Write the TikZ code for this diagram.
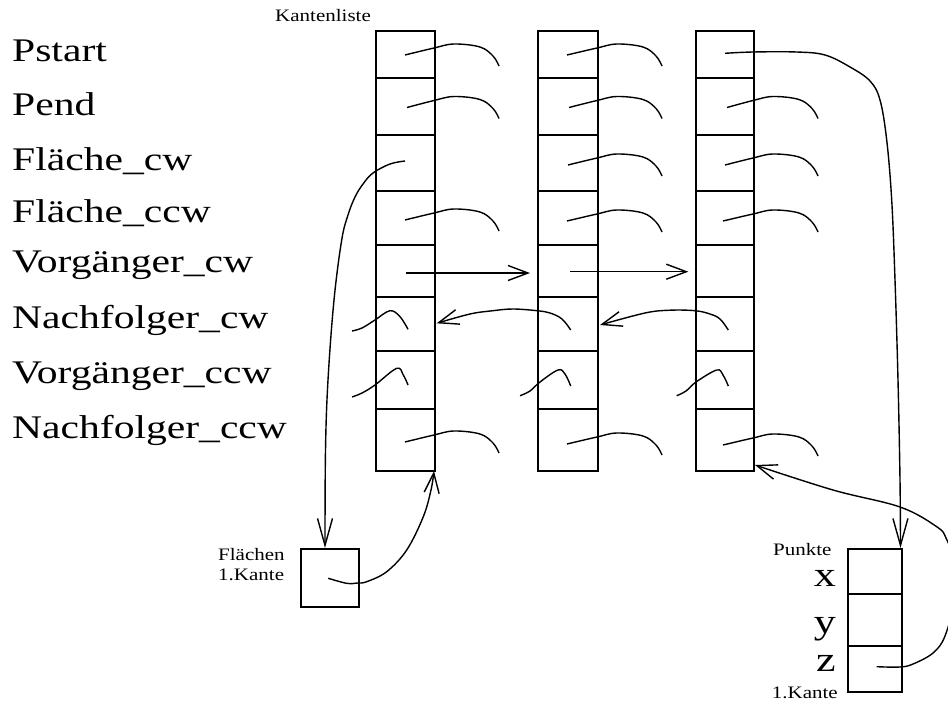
\documentclass[tikz,border=0pt]{standalone}
\usepackage{fontspec}
\setmainfont{Liberation Serif}
\newfontfamily\bigfont[FakeStretch=1.26]{Liberation Serif}
\newfontfamily\smfont[FakeStretch=1.2]{Liberation Serif}
\usetikzlibrary{arrows.meta}
\tikzset{
  box/.style={draw, line width=1.8pt, inner sep=0pt, anchor=north west},
  sep/.style={line width=1.8pt},
  curve/.style={line width=1.4pt},
  arr/.style={curve, -{Straight Barb[length=20pt,width=15pt,line width=1.4pt]}},
  varr/.style={curve, -{Straight Barb[length=27pt,width=15pt,line width=1.4pt]}},
  biglab/.style={anchor=base west, inner sep=0pt, font=\bigfont\fontsize{33}{33}\selectfont},
  smlab/.style={anchor=base west, inner sep=0pt, font=\smfont\fontsize{17.5}{17.5}\selectfont},
}
\newcommand\rpt[3]{\draw[curve] plot[smooth,tension=0.6] coordinates {(#1,{#3+1}) (#2,{#3-6}) ({#2+20},{#3-10}) ({#2+46},{#3-7}) ({#2+59},{#3+2}) ({#2+65},{#3+12})};}
\begin{document}
\begin{tikzpicture}[x=1pt,y=-1pt]
\useasboundingbox (0,0) rectangle (948,704);
\clip (0,0) rectangle (948,704);
% labels
\node[biglab] (l1) at (12,61.7) {Pstart};
\node[biglab] (l2) at (12,115) {Pend};
\node[biglab] (l3) at (12,170) {Fläche\_cw};
\node[biglab] (l4) at (12,222) {Fläche\_ccw};
\node[biglab] (l5) at (12,272.5) {Vorgänger\_cw};
\node[biglab] (l6) at (12,328) {Nachfolger\_cw};
\node[biglab] (l7) at (12,383) {Vorgänger\_ccw};
\node[biglab] (l8) at (12,438) {Nachfolger\_ccw};
\node[smlab] (kl) at (275,21.7) {Kantenliste};
% columns
\node[box, minimum width=59pt, minimum height=440pt] (k1) at (375,30) {};
\node[box, minimum width=60pt, minimum height=440pt] (k2) at (537,30) {};
\node[box, minimum width=58pt, minimum height=440pt] (k3) at (695,30) {};
\foreach \y in {78,135,191,245,297,351,409}{
  \draw[sep] (375,\y) -- (434,\y);
  \draw[sep] (537,\y) -- (597,\y);
  \draw[sep] (695,\y) -- (753,\y);
}
% Flaechen box
\node[box, minimum width=58pt, minimum height=58pt] (fl) at (300,548) {};
\node[smlab] (flt) at (218,560) {Flächen};
\node[smlab] (flk) at (218,580) {1.Kante};
% Punkte box
\node[box, minimum width=54pt, minimum height=143pt] (pk) at (847,548) {};
\draw[sep] (847,594) -- (901,594);
\draw[sep] (847,646) -- (901,646);
\node[smlab] (pkt) at (773,555) {Punkte};
\node[anchor=base east, inner sep=0pt, font=\bigfont\fontsize{35}{35}\selectfont] (px) at (836,586.7) {x};
\node[anchor=base east, inner sep=0pt, font=\bigfont\fontsize{35}{35}\selectfont] (py) at (836,633) {y};
\node[anchor=base east, inner sep=0pt, font=\bigfont\fontsize{35}{35}\selectfont] (pz) at (836,671.7) {z};
\node[smlab] (pkk) at (771.7,698) {1.Kante};
% rightward pointers
\rpt{405}{434}{54}
\rpt{407}{434}{106.5}
\rpt{405}{434}{219}
\rpt{405}{434}{441}
\rpt{567}{597}{54}
\rpt{569}{597}{106.5}
\rpt{568}{597}{164}
\rpt{567}{597}{220}
\rpt{567}{597}{443}
\rpt{727}{753}{106.5}
\rpt{725}{753}{164}
\rpt{723}{753}{220}
\rpt{723}{753}{444}
% cap-shaped pointers
\draw[curve] plot[smooth,tension=0.6] coordinates {(352,331) (362,328) (375,320) (390,310.7) (400,316.7) (408,329.3)};
\draw[curve] plot[smooth,tension=0.6] coordinates {(352,397) (362,393) (375,385) (396.7,368.3) (403.3,375) (408,385)};
\draw[curve] plot[smooth,tension=0.6] coordinates {(520,395.7) (530,391) (540,382) (558,370) (565,374) (570.7,386)};
\draw[curve] plot[smooth,tension=0.6] coordinates {(676.7,395.7) (686,391) (696,382) (716.7,370) (723,375) (728.3,386)};
% Vorgaenger_cw arrows
\draw[arr] (405.7,273) -- (530,273);
\draw[arr] (570,271.7) -- (688.3,271.7);
% Nachfolger_cw arrows
\draw[arr] plot[smooth,tension=0.6] coordinates {(570.7,330) (562,319) (550,313) (537,310.7) (513,309) (493,310.7) (470,314) (436.7,323.3)};
\draw[arr] plot[smooth,tension=0.6] coordinates {(728.3,330) (720,319) (710,314) (695,310.7) (670,310.2) (645,313) (600,325)};
% Flaeche_cw to Flaechen
\draw[varr] plot[smooth,tension=0.6] coordinates {(405,161) (390,164) (373,173) (363,184) (355,197) (348,215) (341.7,240) (334,300) (328,380) (325.5,450) (325,548)};
% Flaechen 1.Kante to Kantenliste
\draw[arr] plot[smooth,tension=0.6] coordinates {(328.3,578.3) (346.7,583.3) (357.7,583) (366.7,581.7) (386.7,571.7) (406.7,550) (423.3,516.7) (431,490) (434,471)};
% Pstart to Punkte
\draw[varr] plot[smooth,tension=0.6] coordinates {(725,53.3) (753,52) (796.7,52) (825,55) (850,67) (870,81) (880,100) (886.7,140) (891.7,200) (895,280) (898,380) (900,480) (900.5,548)};
% Punkte 1.Kante to Kantenliste
\draw[arr] plot[smooth,tension=0.6] coordinates {(876.7,666.7) (900,667) (913,664) (933,653) (945,636) (954,600) (953,560) (946,538) (936.7,526.7) (900,507) (833,490) (755,465)};
\end{tikzpicture}
\end{document}
